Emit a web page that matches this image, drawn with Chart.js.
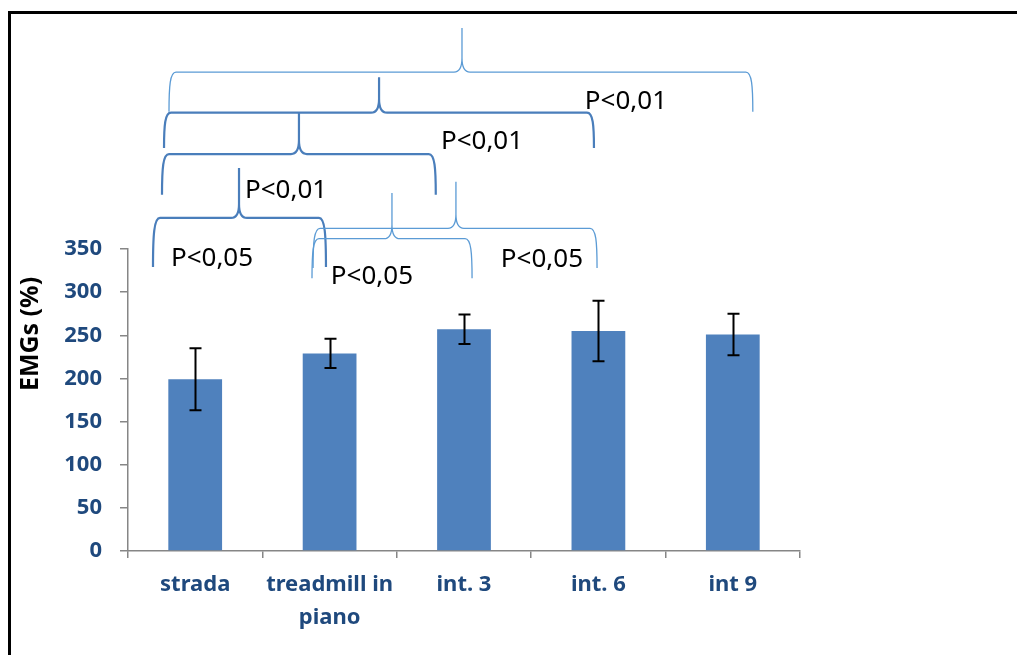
<!DOCTYPE html>
<html>
<head>
<meta charset="utf-8">
<script src="https://cdn.jsdelivr.net/npm/chart.js@4.4.1/dist/chart.umd.min.js"></script>
<style>
  html, body { margin: 0; padding: 0; background: #fff; overflow: hidden; }
  #wrap { position: relative; width: 1017px; height: 655px; }
</style>
</head>
<body>
<div id="wrap"><canvas id="emg"></canvas></div>
<script>
const categories = ['strada', ['treadmill in', 'piano'], 'int. 3', 'int. 6', 'int 9'];
const meanEmg = [199, 229, 257, 255, 251];
const sdEmg = [36, 17, 17, 35, 24];
const yTicks = [0, 50, 100, 150, 200, 250, 300, 350];
const pLabels = ['P<0,01', 'P<0,01', 'P<0,01', 'P<0,05', 'P<0,05', 'P<0,05'];

// brace layout: x in category units, y in axis units (above 350 = over the plot)
const braces = [
  { from: -0.195, to: 4.149, peak: 1.985, bar: 555, top: 606, foot: 509, dark: false, tx: 3.205, ty: 521 },
  { from: -0.232, to: 2.967, peak: 1.368, bar: 508, top: 549, foot: 467, dark: true,  tx: 2.134, ty: 474 },
  { from: -0.247, to: 1.790, peak: 0.772, bar: 460, top: 508, foot: 413, dark: true,  tx: 0.676, ty: 418 },
  { from: -0.314, to: 0.973, peak: 0.326, bar: 386, top: 444, foot: 329, dark: true,  tx: 0.125, ty: 339 },
  { from: 0.869,  to: 2.060, peak: 1.464, bar: 362, top: 415, foot: 316, dark: false, tx: 1.315, ty: 318 },
  { from: 0.877,  to: 2.990, peak: 1.940, bar: 374, top: 428, foot: 328, dark: false, tx: 2.580, ty: 338 },
];

const FONT = "'Noto Sans', 'DejaVu Sans', sans-serif";
const axisBlue = '#1f497d';
const axisGrey = '#868686';

const framePlugin = {
  id: 'frame',
  beforeDraw(chart) {
    const ctx = chart.ctx;
    ctx.save();
    ctx.fillStyle = '#fff';
    ctx.fillRect(0, 0, chart.width, chart.height);
    ctx.strokeStyle = '#000';
    ctx.lineWidth = 3;
    ctx.beginPath();
    ctx.moveTo(9.5, chart.height);
    ctx.lineTo(9.5, 12.5);
    ctx.lineTo(chart.width, 12.5);
    ctx.stroke();
    ctx.restore();
  },
  afterDraw(chart) {
    const ctx = chart.ctx;
    ctx.save();
    ctx.translate(31, 334);
    ctx.rotate(-Math.PI / 2);
    ctx.fillStyle = '#000';
    ctx.font = 'bold 25px ' + FONT;
    ctx.textAlign = 'center';
    ctx.textBaseline = 'middle';
    ctx.fillText('EMGs (%)', 0, 0);
    ctx.restore();
  }
};

const errorBarPlugin = {
  id: 'errorBars',
  afterDatasetsDraw(chart) {
    const ctx = chart.ctx;
    const y = chart.scales.y;
    const meta = chart.getDatasetMeta(0);
    ctx.save();
    ctx.strokeStyle = '#000';
    ctx.lineWidth = 2;
    meta.data.forEach((bar, i) => {
      const yHi = y.getPixelForValue(meanEmg[i] + sdEmg[i]);
      const yLo = y.getPixelForValue(meanEmg[i] - sdEmg[i]);
      const cx = Math.round(bar.x) + 0.5;
      ctx.beginPath();
      ctx.moveTo(cx, yHi); ctx.lineTo(cx, yLo);
      ctx.moveTo(cx - 6, yHi); ctx.lineTo(cx + 6, yHi);
      ctx.moveTo(cx - 6, yLo); ctx.lineTo(cx + 6, yLo);
      ctx.stroke();
    });
    ctx.restore();
  }
};

const bracePlugin = {
  id: 'braces',
  afterDatasetsDraw(chart) {
    const { ctx, scales: { x, y } } = chart;
    ctx.save();
    braces.forEach((b, i) => {
      const x0 = x.getPixelForValue(b.from);
      const x1 = x.getPixelForValue(b.to);
      const xc = x.getPixelForValue(b.peak);
      const yh = y.getPixelForValue(b.bar);
      const yt = y.getPixelForValue(b.top);
      const yb = y.getPixelForValue(b.foot);
      const r = 7, c = 8, k = 14;
      ctx.strokeStyle = b.dark ? '#4a7ebb' : '#5b9bd5';
      ctx.lineWidth = b.dark ? 2.2 : 1.3;
      ctx.beginPath();
      ctx.moveTo(x0, yb);
      ctx.bezierCurveTo(x0, yh + (yb - yh) * 0.35, x0 + 1, yh, x0 + r, yh);
      ctx.lineTo(xc - c, yh);
      ctx.bezierCurveTo(xc - 2, yh, xc, yh - 5, xc, yh - k);
      ctx.lineTo(xc, yt);
      ctx.moveTo(xc, yh - k);
      ctx.bezierCurveTo(xc, yh - 5, xc + 2, yh, xc + c, yh);
      ctx.lineTo(x1 - r, yh);
      ctx.bezierCurveTo(x1 - 1, yh, x1, yh + (yb - yh) * 0.35, x1, yb);
      ctx.stroke();

      ctx.fillStyle = '#000';
      ctx.font = '26px ' + FONT;
      ctx.textAlign = 'center';
      ctx.textBaseline = 'middle';
      ctx.fillText(pLabels[i], x.getPixelForValue(b.tx), y.getPixelForValue(b.ty));
    });
    ctx.restore();
  }
};

new Chart(document.getElementById('emg'), {
  type: 'bar',
  data: {
    labels: categories,
    datasets: [{
      data: meanEmg,
      backgroundColor: '#4f81bd',
      borderWidth: 0,
      barPercentage: 0.4,
      categoryPercentage: 1
    }]
  },
  options: {
    responsive: true,
    maintainAspectRatio: false,
    animation: false,
    layout: { padding: { top: 249, right: 217, left: 0, bottom: 0 } },
    plugins: { legend: { display: false }, tooltip: { enabled: false } },
    scales: {
      x: {
        offset: true,
        grid: { offset: true, drawOnChartArea: false, drawTicks: true, tickLength: 7, color: axisGrey, lineWidth: 1.5 },
        border: { color: axisGrey, width: 1.5 },
        ticks: {
          color: axisBlue,
          padding: 10,
          maxRotation: 0,
          autoSkip: false,
          font: { family: FONT, size: 22, weight: 'bold', lineHeight: 1.5 }
        },
        afterFit(s) { s.height = 104; }
      },
      y: {
        min: 0,
        max: 350,
        afterBuildTicks(s) { s.ticks = yTicks.map(v => ({ value: v })); },
        grid: { drawOnChartArea: false, drawTicks: true, tickLength: 8, color: axisGrey, lineWidth: 1.5 },
        border: { color: axisGrey, width: 1.5 },
        ticks: {
          color: axisBlue,
          padding: 18,
          font: { family: FONT, size: 22, weight: 'bold' }
        },
        afterFit(s) { s.width = 128; }
      }
    }
  },
  plugins: [framePlugin, errorBarPlugin, bracePlugin]
});
</script>
</body>
</html>
